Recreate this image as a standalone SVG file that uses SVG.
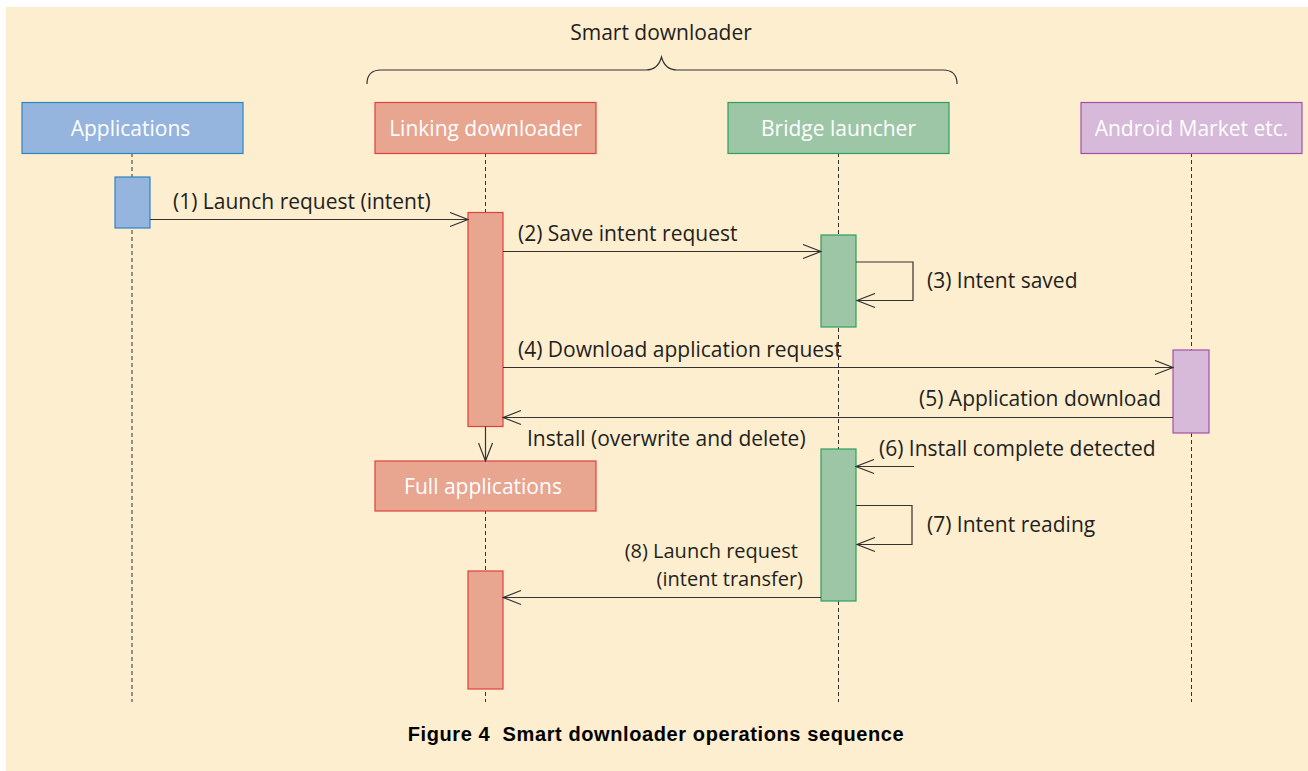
<svg xmlns="http://www.w3.org/2000/svg" width="1308" height="771" viewBox="0 0 1308 771">
<defs>
<style>
.t{font-family:"Open Sans","Liberation Sans",sans-serif;font-size:21px;fill:#231f20}
.s{font-size:20px}
.w{font-family:"Open Sans","Liberation Sans",sans-serif;font-size:21px;fill:#ffffff}
.cap{font-family:"Liberation Sans",Arial,sans-serif;font-size:20px;font-weight:bold;fill:#000;letter-spacing:0.6px;white-space:pre}
.life{stroke:#333;stroke-width:1;stroke-dasharray:4 3;fill:none}
.msg{stroke:#333;stroke-width:1.2;fill:none}
.blue{fill:#95b4de;stroke:#2e86c1;stroke-width:1.2}
.red{fill:#e8a590;stroke:#e0403f;stroke-width:1.2}
.green{fill:#9cc6a6;stroke:#2ea05a;stroke-width:1.2}
.purple{fill:#d7b9da;stroke:#a550a8;stroke-width:1.2}
</style>
<marker id="ah" viewBox="0 0 20 16" refX="19" refY="8" markerWidth="20" markerHeight="16" markerUnits="userSpaceOnUse" orient="auto">
<path d="M1,1 L19,8 L1,15" fill="none" stroke="#333" stroke-width="1.2"/>
</marker>
</defs>
<rect x="6" y="7" width="1302" height="764" fill="#fdeecf"/>
<g id="brace">
<text class="t" x="661" y="40" text-anchor="middle">Smart downloader</text>
<path d="M367,84 Q367,70 381,70 L646,70 Q658,70 661.5,57 Q665,70 677,70 L943,70 Q957,70 957,84" fill="none" stroke="#333" stroke-width="1.2"/>
</g>
<g id="lifelines">
<line class="life" x1="132" y1="153" x2="132" y2="702"/>
<line class="life" x1="485.5" y1="153" x2="485.5" y2="702"/>
<line class="life" x1="838.5" y1="153" x2="838.5" y2="702"/>
<line class="life" x1="1191.5" y1="153" x2="1191.5" y2="702"/>
</g>
<g id="applications">
<rect class="blue" x="22" y="102.5" width="221" height="51"/>
<text class="w" x="130.5" y="136" text-anchor="middle">Applications</text>
<rect class="blue" x="115" y="177" width="35" height="51"/>
</g>
<g id="linking-downloader">
<rect class="red" x="375" y="102.5" width="221" height="51"/>
<text class="w" x="485.5" y="136" text-anchor="middle">Linking downloader</text>
<rect class="red" x="468" y="212.5" width="35" height="214"/>
<rect class="red" x="468" y="571" width="35" height="118"/>
</g>
<g id="bridge-launcher">
<rect class="green" x="728" y="102.5" width="221" height="51"/>
<text class="w" x="838.5" y="136" text-anchor="middle">Bridge launcher</text>
<rect class="green" x="821" y="235" width="35" height="92"/>
<rect class="green" x="821" y="449" width="35" height="152"/>
</g>
<g id="android-market">
<rect class="purple" x="1081" y="102.5" width="221" height="51"/>
<text class="w" x="1191.5" y="136" text-anchor="middle">Android Market etc.</text>
<rect class="purple" x="1173" y="350" width="36" height="83"/>
</g>
<g id="full-applications">
<rect class="red" x="375" y="461" width="221" height="50"/>
<text class="w" x="483" y="494" text-anchor="middle">Full applications</text>
</g>
<g id="connectors">
<line class="msg" x1="150" y1="219.5" x2="468" y2="219.5" marker-end="url(#ah)"/>
<line class="msg" x1="503" y1="251.5" x2="821" y2="251.5" marker-end="url(#ah)"/>
<polyline class="msg" points="856,262 913,262 913,300.5 857,300.5" marker-end="url(#ah)"/>
<line class="msg" x1="503" y1="367.5" x2="1173" y2="367.5" marker-end="url(#ah)"/>
<line class="msg" x1="1173" y1="417.5" x2="503" y2="417.5" marker-end="url(#ah)"/>
<line class="msg" x1="485.5" y1="426.5" x2="485.5" y2="461" marker-end="url(#ah)"/>
<line class="msg" x1="914" y1="466.5" x2="856" y2="466.5" marker-end="url(#ah)"/>
<polyline class="msg" points="856,505.5 912,505.5 912,544.5 857,544.5" marker-end="url(#ah)"/>
<line class="msg" x1="821" y1="597.5" x2="503" y2="597.5" marker-end="url(#ah)"/>
</g>
<g id="labels">
<text class="t" x="173" y="209">(1) Launch request (intent)</text>
<text class="t" x="518" y="241">(2) Save intent request</text>
<text class="t" x="927" y="288">(3) Intent saved</text>
<text class="t" x="518" y="357">(4) Download application request</text>
<text class="t" x="1161" y="406" text-anchor="end">(5) Application download</text>
<text class="t" x="527" y="446">Install (overwrite and delete)</text>
<text class="t" x="879" y="456">(6) Install complete detected</text>
<text class="t" x="927" y="532">(7) Intent reading</text>
<text class="t s" x="798" y="558" text-anchor="end">(8) Launch request</text>
<text class="t s" x="803" y="586" text-anchor="end">(intent transfer)</text>
</g>
<text class="cap" x="656" y="741" text-anchor="middle">Figure 4  Smart downloader operations sequence</text>
</svg>
